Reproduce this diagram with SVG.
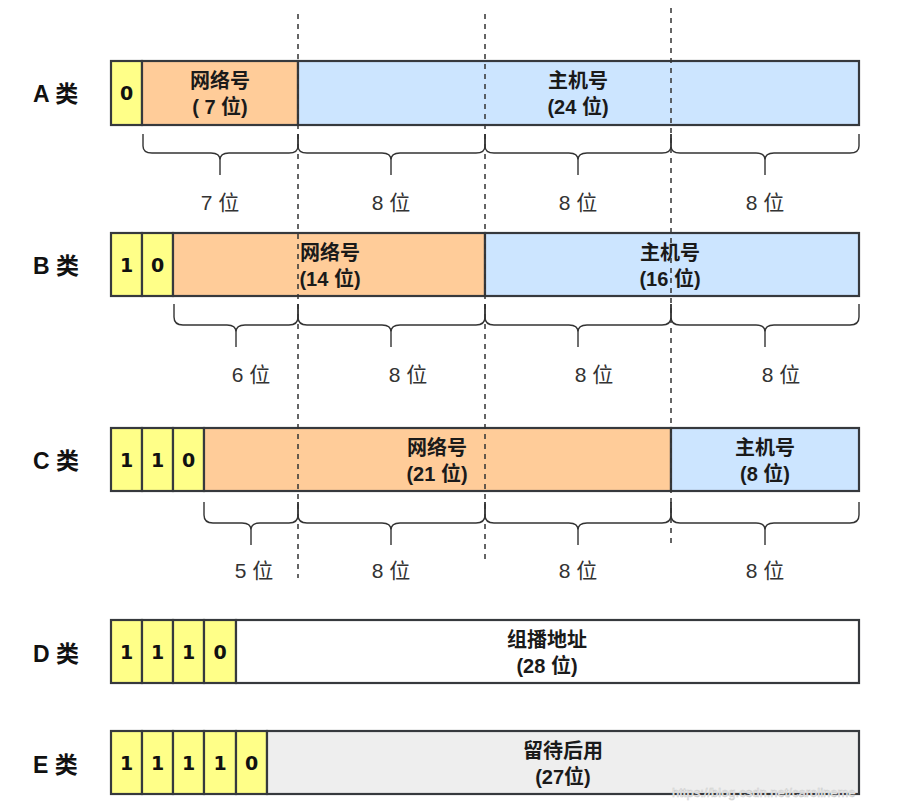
<svg xmlns="http://www.w3.org/2000/svg" width="906" height="811" viewBox="0 0 906 811">
<style>
.cell{stroke:#36393d;stroke-width:2.2}
.y{fill:#ffff88}.o{fill:#ffcc99}.b{fill:#cce5ff}.w{fill:#ffffff}.g{fill:#eeeeee}
.t{font-family:"Liberation Sans","Noto Sans CJK SC",sans-serif;font-weight:bold;font-size:20px;fill:#1a1a1a;text-anchor:middle}
.d{font-family:"DejaVu Sans","Liberation Sans",sans-serif;font-weight:bold;font-size:19px;fill:#111;text-anchor:middle}
.lab{font-family:"Liberation Sans","Noto Sans CJK SC",sans-serif;font-weight:bold;font-size:23px;fill:#111}
.bl{font-family:"Liberation Sans","Noto Sans CJK SC",sans-serif;font-size:21px;fill:#333;text-anchor:middle}
.br{fill:none;stroke:#333;stroke-width:1.4}
.dash{stroke:#333;stroke-width:1.5;stroke-dasharray:5 5;fill:none}
</style>
<rect width="906" height="811" fill="#fff"/>

<g id="rowA">
<text class="lab" x="33" y="102">A 类</text>
<rect class="cell y" x="111" y="61" width="31" height="64"/>
<text class="d" x="126.5" y="100">0</text>
<rect class="cell o" x="142" y="61" width="156" height="64"/>
<text class="t" x="220" y="88">网络号</text>
<text class="t" x="220" y="114">( 7 位)</text>
<rect class="cell b" x="298" y="61" width="561" height="64"/>
<text class="t" x="578" y="88">主机号</text>
<text class="t" x="578" y="114">(24 位)</text>
</g>

<g id="rowB">
<text class="lab" x="33" y="274">B 类</text>
<rect class="cell y" x="111" y="233" width="31" height="63"/>
<text class="d" x="126.5" y="272">1</text>
<rect class="cell y" x="142" y="233" width="31" height="63"/>
<text class="d" x="157.5" y="272">0</text>
<rect class="cell o" x="173" y="233" width="312" height="63"/>
<text class="t" x="330" y="260">网络号</text>
<text class="t" x="330" y="286">(14 位)</text>
<rect class="cell b" x="485" y="233" width="374" height="63"/>
<text class="t" x="670" y="260">主机号</text>
<text class="t" x="670" y="286">(16 位)</text>
</g>

<g id="rowC">
<text class="lab" x="33" y="469">C 类</text>
<rect class="cell y" x="111" y="428" width="31" height="63"/>
<text class="d" x="126.5" y="467">1</text>
<rect class="cell y" x="142" y="428" width="31" height="63"/>
<text class="d" x="157.5" y="467">1</text>
<rect class="cell y" x="173" y="428" width="31" height="63"/>
<text class="d" x="188.5" y="467">0</text>
<rect class="cell o" x="204" y="428" width="467" height="63"/>
<text class="t" x="437" y="455">网络号</text>
<text class="t" x="437" y="481">(21 位)</text>
<rect class="cell b" x="671" y="428" width="188" height="63"/>
<text class="t" x="765" y="455">主机号</text>
<text class="t" x="765" y="481">(8 位)</text>
</g>

<g id="rowD">
<text class="lab" x="33" y="662">D 类</text>
<rect class="cell y" x="111" y="620" width="31" height="63"/>
<text class="d" x="126.5" y="659">1</text>
<rect class="cell y" x="142" y="620" width="31" height="63"/>
<text class="d" x="157.5" y="659">1</text>
<rect class="cell y" x="173" y="620" width="31" height="63"/>
<text class="d" x="188.5" y="659">1</text>
<rect class="cell y" x="204" y="620" width="32" height="63"/>
<text class="d" x="220" y="659">0</text>
<rect class="cell w" x="236" y="620" width="623" height="63"/>
<text class="t" x="547" y="647">组播地址</text>
<text class="t" x="547" y="673">(28 位)</text>
</g>

<g id="rowE">
<text class="lab" x="33" y="773">E 类</text>
<rect class="cell y" x="111" y="731" width="31" height="63"/>
<text class="d" x="126.5" y="770">1</text>
<rect class="cell y" x="142" y="731" width="31" height="63"/>
<text class="d" x="157.5" y="770">1</text>
<rect class="cell y" x="173" y="731" width="31" height="63"/>
<text class="d" x="188.5" y="770">1</text>
<rect class="cell y" x="204" y="731" width="32" height="63"/>
<text class="d" x="220" y="770">1</text>
<rect class="cell y" x="236" y="731" width="31" height="63"/>
<text class="d" x="251.5" y="770">0</text>
<rect class="cell g" x="267" y="731" width="592" height="63"/>
<text class="t" x="563" y="758">留待后用</text>
<text class="t" x="563" y="784">(27位)</text>
</g>

<g id="connectors">
<line class="dash" x1="298" y1="14" x2="298" y2="578"/>
<line class="dash" x1="485" y1="14" x2="485" y2="562"/>
<line class="dash" x1="671" y1="8" x2="671" y2="548"/>
</g>

<g id="braces">
<path class="br" d="M143,134 V146 Q143,153 152,153 H211 Q220,153 220,160 V175 M220,160 Q220,153 229,153 H289 Q298,153 298,146 V134"/>
<path class="br" d="M298,134 V146 Q298,153 307,153 H382 Q391,153 391,160 V175 M391,160 Q391,153 400,153 H476 Q485,153 485,146 V134"/>
<path class="br" d="M485,134 V146 Q485,153 494,153 H569 Q578,153 578,160 V175 M578,160 Q578,153 587,153 H662 Q671,153 671,146 V134"/>
<path class="br" d="M671,134 V146 Q671,153 680,153 H756 Q765,153 765,160 V175 M765,160 Q765,153 774,153 H850 Q859,153 859,146 V134"/>

<path class="br" d="M174,304 V317 Q174,325 183,325 H227 Q236,325 236,332 V347 M236,332 Q236,325 245,325 H289 Q298,325 298,317 V304"/>
<path class="br" d="M298,304 V317 Q298,325 307,325 H382 Q391,325 391,332 V347 M391,332 Q391,325 400,325 H476 Q485,325 485,317 V304"/>
<path class="br" d="M485,304 V317 Q485,325 494,325 H569 Q578,325 578,332 V347 M578,332 Q578,325 587,325 H662 Q671,325 671,317 V304"/>
<path class="br" d="M671,304 V317 Q671,325 680,325 H756 Q765,325 765,332 V347 M765,332 Q765,325 774,325 H850 Q859,325 859,317 V304"/>

<path class="br" d="M204,502 V515 Q204,523 213,523 H242 Q251,523 251,530 V545 M251,530 Q251,523 260,523 H289 Q298,523 298,515 V502"/>
<path class="br" d="M298,502 V515 Q298,523 307,523 H382 Q391,523 391,530 V545 M391,530 Q391,523 400,523 H476 Q485,523 485,515 V502"/>
<path class="br" d="M485,502 V515 Q485,523 494,523 H569 Q578,523 578,530 V545 M578,530 Q578,523 587,523 H662 Q671,523 671,515 V502"/>
<path class="br" d="M671,502 V515 Q671,523 680,523 H756 Q765,523 765,530 V545 M765,530 Q765,523 774,523 H850 Q859,523 859,515 V502"/>
</g>

<g id="labels">
<text class="bl" x="220" y="210">7 位</text>
<text class="bl" x="391" y="210">8 位</text>
<text class="bl" x="578" y="210">8 位</text>
<text class="bl" x="765" y="210">8 位</text>
<text class="bl" x="251" y="382">6 位</text>
<text class="bl" x="408" y="382">8 位</text>
<text class="bl" x="594" y="382">8 位</text>
<text class="bl" x="781" y="382">8 位</text>
<text class="bl" x="254" y="578">5 位</text>
<text class="bl" x="391" y="578">8 位</text>
<text class="bl" x="578" y="578">8 位</text>
<text class="bl" x="765" y="578">8 位</text>
</g>

<text x="672" y="797" font-family="Liberation Sans, sans-serif" font-size="13" fill="#ffffff" stroke="#cccccc" stroke-width="0.6">https://blog.csdn.net/carolineme</text>
</svg>
